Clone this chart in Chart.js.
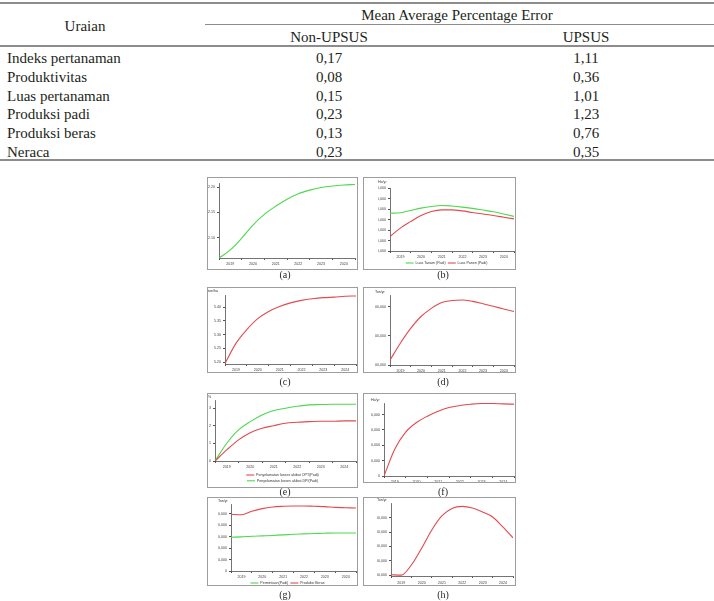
<!DOCTYPE html>
<html>
<head>
<meta charset="utf-8">
<script src="https://cdn.jsdelivr.net/npm/chart.js@4.4.1/dist/chart.umd.min.js"></script>
<style>
  body { margin: 0; width: 714px; height: 601px; position: relative; background: #fff; overflow: hidden;
         font-family: "Liberation Serif", "Times New Roman", serif; color: #231f20; }
  .txt { position: absolute; white-space: nowrap; font-size: 15px; line-height: 15px; transform: translate(-50%, -50%); }
  .txt.left { transform: translate(0, -50%); }
  .rule { position: absolute; background: #8c8c8c; }
  .frame { position: absolute; border: 1.5px solid #9d9d9d; box-sizing: border-box; }
  .cap { position: absolute; font-size: 10px; line-height: 10px; white-space: nowrap; transform: translate(-50%, -50%); }
  canvas { position: absolute; }
</style>
</head>
<body>
<script>
// table data
const uraian = ['Indeks pertanaman', 'Produktivitas', 'Luas pertanaman', 'Produksi padi', 'Produksi beras', 'Neraca'];
const mapeNonUpsus = [0.17, 0.08, 0.15, 0.23, 0.13, 0.23];
const mapeUpsus = [1.11, 0.36, 1.01, 1.23, 0.76, 0.35];

// simulation output, sampled every half year
const years = [2019, 2019.5, 2020, 2020.5, 2021, 2021.5, 2022, 2022.5, 2023, 2023.5, 2024, 2024.5, 2025];
const yearLabels = [2019, 2020, 2021, 2022, 2023, 2024];

const indeksPertanaman = [2.060, 2.076, 2.099, 2.125, 2.146, 2.162, 2.176, 2.187, 2.194, 2.199, 2.202, 2.204, 2.205];
const luasTanam = [16.80e6, 16.82e6, 16.93e6, 17.04e6, 17.12e6, 17.17e6, 17.14e6, 17.09e6, 17.03e6, 16.95e6, 16.87e6, 16.76e6, 16.65e6];
const luasPanen = [15.69e6, 16.09e6, 16.40e6, 16.69e6, 16.88e6, 16.96e6, 16.96e6, 16.91e6, 16.83e6, 16.76e6, 16.69e6, 16.61e6, 16.53e6];
const produktivitas = [5.195, 5.268, 5.318, 5.358, 5.384, 5.402, 5.415, 5.424, 5.430, 5.434, 5.436, 5.439, 5.440];
const produksiPadi = [79.17e6, 79.75e6, 80.26e6, 80.67e6, 80.95e6, 81.15e6, 81.22e6, 81.24e6, 81.19e6, 81.11e6, 81.02e6, 80.93e6, 80.84e6];
const lossesOPT = [0, 0.63, 1.20, 1.61, 1.86, 2.01, 2.15, 2.20, 2.24, 2.26, 2.26, 2.28, 2.28];
const lossesDPI = [0, 1.01, 1.77, 2.24, 2.62, 2.87, 3.00, 3.11, 3.19, 3.21, 3.23, 3.23, 3.23];
const tambahLuas = [0, 350e3, 571e3, 696e3, 778e3, 843e3, 891e3, 917e3, 934e3, 943e3, 943e3, 938e3, 935e3];
const permintaan = [14.70e6, 14.85e6, 15.15e6, 15.30e6, 15.45e6, 15.70e6, 16.00e6, 16.15e6, 16.30e6, 16.45e6, 16.55e6, 16.55e6, 16.55e6];
const produksiBeras = [24.70e6, 24.45e6, 26.00e6, 27.15e6, 27.85e6, 28.15e6, 28.30e6, 28.30e6, 28.15e6, 28.00e6, 27.70e6, 27.55e6, 27.40e6];
const neraca = [20.02e6, 19.99e6, 20.70e6, 21.86e6, 23.14e6, 24.14e6, 24.67e6, 24.81e6, 24.70e6, 24.42e6, 24.07e6, 23.37e6, 22.60e6];

const green = '#4cd94c';
const red = '#e34a4f';
const axisColor = '#505050';
const fs = 3.6;

Chart.defaults.font.family = '"Liberation Sans", Arial, sans-serif';
Chart.defaults.font.size = fs;
Chart.defaults.color = '#404040';

// ---- table ----
function put(cls, x, y, s, extra) {
  const d = document.createElement('div');
  d.className = cls;
  d.style.left = x + 'px';
  d.style.top = y + 'px';
  if (extra) Object.assign(d.style, extra);
  d.textContent = s;
  document.body.appendChild(d);
}
function rule(x, y, w, h) {
  const d = document.createElement('div');
  d.className = 'rule';
  Object.assign(d.style, { left: x + 'px', top: y + 'px', width: w + 'px', height: h + 'px' });
  document.body.appendChild(d);
}
const comma = v => v.toFixed(2).replace('.', ',');

rule(0, 2, 714, 2);
put('txt', 457, 15, 'Mean Average Percentage Error');
rule(205, 24, 509, 1);
put('txt', 85, 26, 'Uraian');
put('txt', 329, 37, 'Non-UPSUS');
put('txt', 586, 37, 'UPSUS');
rule(0, 45, 714, 1.5);
uraian.forEach((u, i) => {
  const y = 58 + i * 18.8;
  put('txt left', 7, y, u);
  put('txt', 329, y, comma(mapeNonUpsus[i]));
  put('txt', 586, y, comma(mapeUpsus[i]));
});
rule(0, 159, 714, 1.5);

// ---- charts ----
const num = v => Math.round(v).toLocaleString('en-US');

const panels = [
  { box: [207, 177, 151, 93], plot: [219, 183, 355, 258], xMax: 2025, xH: 8,
    y: { min: 2.06, max: 2.208, ticks: [2.10, 2.15, 2.20], fmt: v => v.toFixed(2) },
    series: [{ label: 'Indeks pertanaman', data: indeksPertanaman, color: green }], cap: ['(a)', 285, 275] },
  { box: [363, 177, 153, 93], plot: [390, 188, 515, 251], xMax: 2025, xH: 8, unit: ['Ha/yr', 378, 182], legend: true,
    y: { min: 15e6, max: 18e6, ticks: [15e6, 15.5e6, 16e6, 16.5e6, 17e6, 17.5e6, 18e6], fmt: num },
    series: [{ label: 'Luas Tanam (Padi)', data: luasTanam, color: green },
             { label: 'Luas Panen (Padi)', data: luasPanen, color: red }], cap: ['(b)', 443, 275] },
  { box: [207, 287, 151, 86], plot: [225, 295, 357, 364], xMax: 2025, xH: 8, unit: ['ton/ha', 208, 291],
    y: { min: 5.193, max: 5.4436, ticks: [5.20, 5.25, 5.30, 5.35, 5.40], fmt: v => v.toFixed(2) },
    series: [{ label: 'Produktivitas', data: produktivitas, color: red }], cap: ['(c)', 285, 382] },
  { box: [363, 287, 153, 86], plot: [390, 295, 515, 365], xMax: 2025, xH: 8, unit: ['Ton/yr', 375, 292],
    y: { min: 79e6, max: 81.41e6, ticks: [79e6, 80e6, 81e6], fmt: num },
    series: [{ label: 'Produksi padi', data: produksiPadi, color: red }], cap: ['(d)', 443, 382] },
  { box: [207, 393, 151, 95], plot: [215, 400, 357, 461], xMax: 2025, xH: 10, unit: ['%', 208, 397], legend: true,
    y: { min: 0, max: 3.47, ticks: [0, 1, 2, 3], fmt: v => String(v) },
    series: [{ label: 'Penyelamatan losses akibat OPT(Padi)', data: lossesOPT, color: red },
             { label: 'Penyelamatan losses akibat DPI(Padi)', data: lossesDPI, color: green }], cap: ['(e)', 285, 492] },
  { box: [363, 393, 153, 90], plot: [384, 403, 514, 476], xMax: 2025, xH: 7, unit: ['Ha/yr', 371, 400],
    y: { min: 0, max: 950e3, ticks: [0, 200e3, 400e3, 600e3, 800e3], fmt: num },
    series: [{ label: 'Luas tambah tanam', data: tambahLuas, color: red }], cap: ['(f)', 443, 492] },
  { box: [207, 497, 151, 89], plot: [231, 504, 357, 571], xMax: 2025, xH: 8, unit: ['Ton/yr', 218, 501], legend: true,
    y: { min: 0, max: 29.15e6, ticks: [0, 5e6, 10e6, 15e6, 20e6, 25e6], fmt: num },
    series: [{ label: 'Permintaan(Padi)', data: permintaan, color: green },
             { label: 'Produksi Beras', data: produksiBeras, color: red }], cap: ['(g)', 285, 595] },
  { box: [363, 497, 153, 89], plot: [391, 503, 515, 576], xMax: 2025, xH: 8, xPad: 3, unit: ['Ton/yr', 377, 500],
    y: { min: 19.93e6, max: 25.05e6, ticks: [20e6, 21e6, 22e6, 23e6, 24e6], fmt: num },
    series: [{ label: 'Neraca', data: neraca, color: red }], cap: ['(h)', 443, 595] }
];

panels.forEach(p => {
  const [bx, by, bw, bh] = p.box;
  const [pl, pt, pr, pb] = p.plot;

  const canvas = document.createElement('canvas');
  canvas.width = bw;
  canvas.height = bh;
  Object.assign(canvas.style, { left: bx + 'px', top: by + 'px', width: bw + 'px', height: bh + 'px' });
  document.body.appendChild(canvas);

  const frame = document.createElement('div');
  frame.className = 'frame';
  Object.assign(frame.style, { left: bx + 'px', top: by + 'px', width: bw + 'px', height: bh + 'px' });
  document.body.appendChild(frame);
  put('cap', p.cap[1], p.cap[2], p.cap[0]);

  const padLeft = p.unit ? p.unit[1] - bx : 0;
  let padTop = pt - by;
  let title = { display: false };
  if (p.unit) {
    const titleTop = p.unit[2] - fs * 0.6;
    padTop = titleTop - by;
    title = { display: true, text: p.unit[0], align: 'start', position: 'top', color: '#333',
              font: { size: fs, weight: 'normal' }, padding: { top: 0, bottom: pt - titleTop - fs * 1.2 } };
  }
  const legendTop = pb + p.xH;
  const padBottom = p.legend ? 0 : by + bh - legendTop;
  const binPx = (pr - pl) / (p.xMax - 2019);

  new Chart(canvas, {
    type: 'line',
    data: {
      datasets: p.series.map(s => ({
        label: s.label,
        data: years.map((x, i) => ({ x, y: s.data[i] })),
        borderColor: s.color,
        backgroundColor: s.color,
        borderWidth: 1.1,
        pointRadius: 0,
        cubicInterpolationMode: 'monotone'
      }))
    },
    options: {
      responsive: false,
      animation: false,
      events: [],
      layout: { autoPadding: false, padding: { left: padLeft, top: padTop, right: bx + bw - pr, bottom: padBottom } },
      plugins: {
        title,
        tooltip: { enabled: false },
        legend: {
          display: !!p.legend,
          position: 'bottom',
          maxHeight: by + bh - legendTop,
          labels: { usePointStyle: true, pointStyle: 'line', pointStyleWidth: 8, padding: 2.2, color: '#333',
                    font: { size: fs } }
        }
      },
      scales: {
        x: {
          type: 'linear', min: 2019, max: p.xMax,
          afterFit: s => { s.height = p.xH; },
          ticks: { stepSize: 1, includeBounds: false, autoSkip: false, maxRotation: 0, padding: p.xPad || 2,
                   labelOffset: binPx / 2, callback: v => yearLabels.includes(v) ? String(v) : '' },
          grid: { drawOnChartArea: false, tickLength: 2, color: axisColor },
          border: { color: axisColor, width: 0.8 }
        },
        y: {
          type: 'linear', min: p.y.min, max: p.y.max,
          afterFit: s => { s.width = pl - bx - padLeft; },
          afterBuildTicks: s => { s.ticks = p.y.ticks.map(v => ({ value: v })); },
          ticks: { padding: 2, autoSkip: false, callback: v => p.y.fmt(v) },
          grid: { drawOnChartArea: false, tickLength: 2, color: axisColor },
          border: { color: axisColor, width: 0.8 }
        }
      }
    }
  });
});
</script>
</body>
</html>
